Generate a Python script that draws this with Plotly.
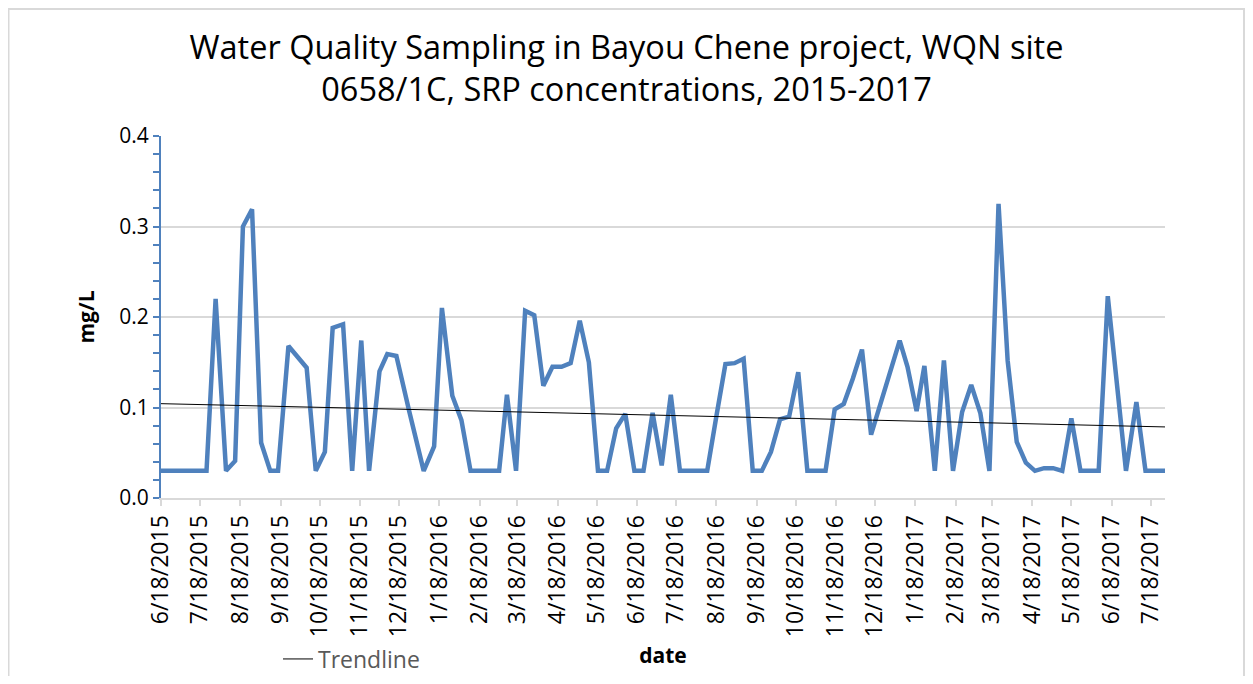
import numpy as np
import pandas as pd
import plotly.graph_objects as go

dates = [
    "2015-06-18", "2015-06-25", "2015-07-02", "2015-07-09", "2015-07-16", "2015-07-23",
    "2015-07-30", "2015-08-07", "2015-08-14", "2015-08-20", "2015-08-27", "2015-09-03",
    "2015-09-10", "2015-09-16", "2015-09-24", "2015-10-01", "2015-10-08", "2015-10-15",
    "2015-10-22", "2015-10-28", "2015-11-05", "2015-11-12", "2015-11-19", "2015-11-25",
    "2015-12-03", "2015-12-09", "2015-12-16", "2015-12-26", "2016-01-06", "2016-01-14",
    "2016-01-20", "2016-01-28", "2016-02-04", "2016-02-11", "2016-02-18", "2016-02-25",
    "2016-03-04", "2016-03-10", "2016-03-17", "2016-03-24", "2016-03-31", "2016-04-07",
    "2016-04-14", "2016-04-21", "2016-04-28", "2016-05-05", "2016-05-12", "2016-05-19",
    "2016-05-26", "2016-06-02", "2016-06-09", "2016-06-16", "2016-06-23", "2016-06-30",
    "2016-07-07", "2016-07-14", "2016-07-21", "2016-07-28", "2016-08-04", "2016-08-11",
    "2016-08-18", "2016-08-25", "2016-09-01", "2016-09-08", "2016-09-15", "2016-09-22",
    "2016-09-29", "2016-10-06", "2016-10-13", "2016-10-20", "2016-10-27", "2016-11-03",
    "2016-11-10", "2016-11-17", "2016-11-24", "2016-12-01", "2016-12-08", "2016-12-15",
    "2016-12-22", "2016-12-29", "2017-01-06", "2017-01-12", "2017-01-19", "2017-01-25",
    "2017-02-02", "2017-02-09", "2017-02-16", "2017-02-23", "2017-03-02", "2017-03-09",
    "2017-03-16", "2017-03-23", "2017-03-30", "2017-04-06", "2017-04-13", "2017-04-20",
    "2017-04-27", "2017-05-04", "2017-05-11", "2017-05-18", "2017-05-25", "2017-06-01",
    "2017-06-08", "2017-06-15", "2017-06-29", "2017-07-07", "2017-07-14", "2017-07-21",
    "2017-07-29",
]

srp_mg_l = [
    0.03, 0.03, 0.03, 0.03, 0.03, 0.03,
    0.220, 0.03, 0.041, 0.300, 0.319, 0.061,
    0.03, 0.03, 0.168, 0.155, 0.144, 0.03,
    0.051, 0.188, 0.192, 0.03, 0.174, 0.03,
    0.140, 0.159, 0.157, 0.095, 0.03, 0.057,
    0.210, 0.113, 0.086, 0.03, 0.03, 0.03,
    0.03, 0.114, 0.03, 0.207, 0.202, 0.124,
    0.145, 0.145, 0.149, 0.196, 0.150, 0.03,
    0.03, 0.077, 0.093, 0.03, 0.03, 0.094,
    0.036, 0.114, 0.03, 0.03, 0.03, 0.03,
    0.090, 0.148, 0.149, 0.154, 0.03, 0.03,
    0.051, 0.087, 0.090, 0.139, 0.03, 0.03,
    0.03, 0.098, 0.104, 0.132, 0.164, 0.070,
    0.103, 0.137, 0.174, 0.145, 0.096, 0.146,
    0.03, 0.152, 0.03, 0.095, 0.125, 0.094,
    0.03, 0.325, 0.152, 0.062, 0.039, 0.03,
    0.033, 0.033, 0.03, 0.088, 0.03, 0.03,
    0.03, 0.223, 0.03, 0.106, 0.03, 0.03,
    0.03,
]

tick_dates = [
    "2015-06-18", "2015-07-18", "2015-08-18", "2015-09-18", "2015-10-18", "2015-11-18",
    "2015-12-18", "2016-01-18", "2016-02-18", "2016-03-18", "2016-04-18", "2016-05-18",
    "2016-06-18", "2016-07-18", "2016-08-18", "2016-09-18", "2016-10-18", "2016-11-18",
    "2016-12-18", "2017-01-18", "2017-02-18", "2017-03-18", "2017-04-18", "2017-05-18",
    "2017-06-18", "2017-07-18",
]
tick_labels = [
    "6/18/2015", "7/18/2015", "8/18/2015", "9/18/2015", "10/18/2015", "11/18/2015",
    "12/18/2015", "1/18/2016", "2/18/2016", "3/18/2016", "4/18/2016", "5/18/2016",
    "6/18/2016", "7/18/2016", "8/18/2016", "9/18/2016", "10/18/2016", "11/18/2016",
    "12/18/2016", "1/18/2017", "2/18/2017", "3/18/2017", "4/18/2017", "5/18/2017",
    "6/18/2017", "7/18/2017",
]

# linear trendline fitted to the series
d = pd.to_datetime(dates)
days = (d - d[0]).days.values.astype(float)
slope, intercept = np.polyfit(days, np.array(srp_mg_l), 1)
trend_x = [dates[0], dates[-1]]
trend_y = [intercept, intercept + slope * days[-1]]

FONT = "Open Sans"
fig = go.Figure()
fig.add_trace(go.Scatter(
    x=dates, y=srp_mg_l, mode="lines", name="SRP",
    line=dict(color="#4F81BD", width=4.5), showlegend=False,
))
fig.add_trace(go.Scatter(
    x=trend_x, y=trend_y, mode="lines", name="Trendline",
    line=dict(color="black", width=1), showlegend=True,
))

# page has an 8px body margin; keep the figure inside the window (no scrollbars)
OFF = 8
W, H = 1253 - 2 * OFF, 684 - 2 * OFF
L, T = 161 - OFF, 136 - OFF
R = W - (1165 - OFF)
B = H - (498 - OFF)
pw, ph = W - L - R, H - T - B

def px_x(x):
    return (x - OFF - L) / pw

def px_y(y):
    return (H - B - (y - OFF)) / ph

fig.update_layout(
    width=W, height=H,
    margin=dict(l=L, r=R, t=T, b=B, autoexpand=False),
    paper_bgcolor="white", plot_bgcolor="white",
    font=dict(family=FONT, color="black"),
    title=dict(
        text="Water Quality Sampling in Bayou Chene project, WQN site<br>0658/1C, SRP concentrations, 2015-2017",
        x=0.5, xanchor="center", y=1 - (59 - OFF) / H, yanchor="middle",
        font=dict(size=32.5, family=FONT, color="black"),
    ),
    xaxis=dict(
        type="date", range=[dates[0], dates[-1]], automargin=False,
        tickvals=tick_dates, ticktext=tick_labels, tickangle=-90,
        tickfont=dict(size=23, family=FONT),
        showgrid=False, showline=True, linecolor="#D9D9D9", linewidth=2,
        ticks="outside", ticklen=6, tickcolor="#D9D9D9", tickwidth=2,
        title=dict(text="<b>date</b>", font=dict(size=21, family=FONT), standoff=12),
        zeroline=False,
    ),
    yaxis=dict(
        range=[0, 0.4], tickvals=[0, 0.1, 0.2, 0.3, 0.4], tickformat=".1f", automargin=False,
        tickfont=dict(size=21, family=FONT),
        showgrid=True, gridcolor="#D9D9D9", gridwidth=2,
        showline=True, linecolor="#4F81BD", linewidth=2,
        ticks="outside", ticklen=6, tickcolor="#4F81BD", tickwidth=2,
        minor=dict(dtick=0.02, tick0=0, ticks="outside", ticklen=6, tickcolor="#4F81BD",
                   tickwidth=2, showgrid=False),
        title=dict(text="<b>mg/L</b>", font=dict(size=21, family=FONT), standoff=19),
        zeroline=False,
    ),
    legend=dict(
        orientation="h", x=px_x(278), xanchor="left", y=px_y(659), yanchor="middle",
        font=dict(size=23, family=FONT, color="#595959"), bgcolor="rgba(0,0,0,0)",
    ),
    shapes=[dict(
        type="rect", xref="paper", yref="paper",
        x0=px_x(OFF + 0.5), x1=px_x(1253 - OFF - 1), y0=px_y(720), y1=px_y(OFF + 1),
        line=dict(color="#D9D9D9", width=2), fillcolor="rgba(0,0,0,0)", layer="below",
    )],
)

fig.write_html("out.html")
